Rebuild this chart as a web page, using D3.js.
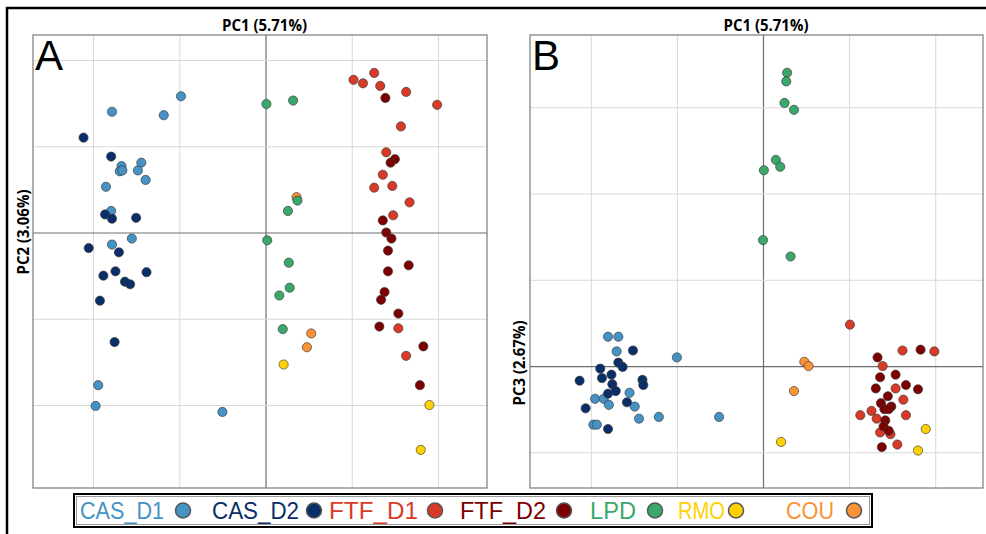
<!DOCTYPE html>
<html>
<head>
<meta charset="utf-8">
<script src="https://cdn.jsdelivr.net/npm/d3@7"></script>
<style>
  body { margin: 0; background: #fff; }
  .grid line { stroke: #d9d9d9; stroke-width: 1; }
  .grid .zero line { stroke: #6e6e6e; stroke-width: 1.2; }
  .grid path.domain { display: none; }
</style>
</head>
<body>
<div id="chart"></div>
<script>
// groups, legend labels and colours
const groups = ["CAS_D1", "CAS_D2", "FTF_D1", "FTF_D2", "LPD", "RMO", "COU"];
const groupColors = ["#4592c6", "#0a2f68", "#d83a27", "#7d0000", "#3aa86b", "#ffd100", "#fc9236"];
const drawOrder = ["CAS_D1", "CAS_D2", "FTF_D1", "FTF_D2", "COU", "LPD", "RMO"];

const axisTitlesA = ["PC1 (5.71%)", "PC2 (3.06%)"];
const axisTitlesB = ["PC1 (5.71%)", "PC3 (2.67%)"];
const gridTicksX = [-2, -1, 0, 1, 2];
const gridTicksYA = [-2, -1, 0, 1, 2];
const gridTicksYB = [-1, 0, 1, 2, 3];

// panel A : PC1 vs PC2  ([pc1, pc2])
const pc12_CAS_D1 = [[-0.98,1.58],[-1.78,1.40],[-1.18,1.36],[-1.67,0.77],[-1.44,0.81],[-1.48,0.72],
  [-1.69,0.71],[-1.66,0.72],[-1.39,0.61],[-1.85,0.53],[-1.79,0.25],[-1.55,-0.07],[-1.78,-0.14],
  [-1.94,-1.77],[-1.97,-2.01],[-0.50,-2.08]];
const pc12_CAS_D2 = [[-2.11,1.10],[-1.79,0.88],[-1.86,0.21],[-1.78,0.16],[-1.50,0.17],[-2.05,-0.18],
  [-1.70,-0.23],[-1.88,-0.50],[-1.74,-0.45],[-1.38,-0.46],[-1.63,-0.57],[-1.57,-0.60],[-1.92,-0.79],
  [-1.75,-1.27]];
const pc12_FTF_D1 = [[1.26,1.85],[1.02,1.77],[1.13,1.73],[1.33,1.70],[1.63,1.63],[1.99,1.48],[1.57,1.23],
  [1.40,0.93],[1.36,0.67],[1.26,0.52],[1.47,0.54],[1.67,0.35],[1.48,0.20],[1.54,-1.11],[1.63,-1.43]];
const pc12_FTF_D2 = [[1.39,1.56],[1.50,0.85],[1.45,0.81],[1.36,0.14],[1.40,0.00],[1.46,-0.07],[1.42,-0.21],
  [1.66,-0.38],[1.42,-0.45],[1.38,-0.69],[1.34,-0.78],[1.54,-0.94],[1.32,-1.09],[1.83,-1.32],[1.79,-1.77]];
const pc12_LPD = [[0.01,1.49],[0.32,1.53],[0.37,0.37],[0.26,0.25],[0.02,-0.09],[0.27,-0.35],[0.28,-0.64],
  [0.16,-0.73],[0.20,-1.12]];
const pc12_RMO = [[0.21,-1.53],[1.90,-2.00],[1.80,-2.52]];
const pc12_COU = [[0.36,0.41],[0.53,-1.17],[0.48,-1.33]];

// panel B : PC1 vs PC3  ([pc1, pc3])
const pc13_CAS_D1 = [[-1.80,0.34],[-1.68,0.34],[-1.70,0.17],[-1.00,0.10],[-1.55,-0.31],[-1.95,-0.38],
  [-1.85,-0.38],[-1.79,-0.45],[-1.49,-0.47],[-1.44,-0.61],[-1.21,-0.59],[-0.51,-0.59],[-1.97,-0.68],
  [-1.93,-0.68]];
const pc13_CAS_D2 = [[-1.51,0.18],[-1.68,0.04],[-1.63,-0.01],[-1.89,-0.03],[-1.76,-0.10],[-2.13,-0.17],
  [-1.87,-0.14],[-1.75,-0.21],[-1.40,-0.16],[-1.39,-0.22],[-1.71,-0.29],[-1.80,-0.32],[-1.58,-0.42],
  [-2.06,-0.49],[-1.80,-0.73]];
const pc13_FTF_D1 = [[1.01,0.48],[1.62,0.18],[1.99,0.17],[1.39,0.00],[1.54,-0.26],[1.63,-0.39],[1.13,-0.57],
  [1.26,-0.52],[1.32,-0.61],[1.66,-0.57],[1.36,-0.77],[1.48,-0.79],[1.56,-0.91]];
const pc13_FTF_D2 = [[1.83,0.19],[1.33,0.10],[1.54,-0.10],[1.36,-0.13],[1.66,-0.22],[1.80,-0.27],[1.31,-0.26],
  [1.45,-0.35],[1.37,-0.43],[1.49,-0.47],[1.41,-0.50],[1.46,-0.50],[1.42,-0.63],[1.40,-0.70],[1.46,-0.75],
  [1.38,-0.94]];
const pc13_LPD = [[0.28,3.40],[0.27,3.30],[0.25,3.05],[0.36,2.97],[0.15,2.39],[0.20,2.31],[0.01,2.27],
  [0.00,1.46],[0.32,1.27]];
const pc13_RMO = [[0.21,-0.88],[1.89,-0.73],[1.80,-0.98]];
const pc13_COU = [[0.48,0.05],[0.53,0.00],[0.36,-0.29]];

const pointsA = { CAS_D1: pc12_CAS_D1, CAS_D2: pc12_CAS_D2, FTF_D1: pc12_FTF_D1, FTF_D2: pc12_FTF_D2,
  LPD: pc12_LPD, RMO: pc12_RMO, COU: pc12_COU };
const pointsB = { CAS_D1: pc13_CAS_D1, CAS_D2: pc13_CAS_D2, FTF_D1: pc13_FTF_D1, FTF_D2: pc13_FTF_D2,
  LPD: pc13_LPD, RMO: pc13_RMO, COU: pc13_COU };

const width = 986, height = 534;
const color = d3.scaleOrdinal().domain(groups).range(groupColors);

const svg = d3.select("#chart").append("svg")
  .attr("width", width).attr("height", height)
  .style("font-family", "'Liberation Sans', Arial, sans-serif");

// outer figure frame
svg.append("path")
  .attr("d", "M7,534V8H986")
  .attr("fill", "none").attr("stroke", "#000").attr("stroke-width", 2.5);

createScatter({
  letter: "A", points: pointsA, titles: axisTitlesA,
  xDomain: [-2.696, 2.568], yDomain: [-2.962, 2.29], yTicks: gridTicksYA,
  left: 33, right: 487, top: 35, bottom: 488,
  titleX: 264.5, yTitleX: 28.5, yTitleY: 232
});
createScatter({
  letter: "B", points: pointsB, titles: axisTitlesB,
  xDomain: [-2.706, 2.555], yDomain: [-1.414, 3.838], yTicks: gridTicksYB,
  left: 530, right: 983, top: 35, bottom: 488,
  titleX: 766, yTitleX: 524.5, yTitleY: 363
});

function createScatter(o) {
  const x = d3.scaleLinear().domain(o.xDomain).range([o.left, o.right]);
  const y = d3.scaleLinear().domain(o.yDomain).range([o.bottom, o.top]);
  const g = svg.append("g");
  const innerW = o.right - o.left, innerH = o.bottom - o.top;

  //grid
  const gx = g.append("g").attr("class", "grid")
    .attr("transform", `translate(0,${o.bottom})`)
    .call(d3.axisBottom(x).tickValues(gridTicksX).tickSize(-innerH).tickFormat(""));
  const gy = g.append("g").attr("class", "grid")
    .attr("transform", `translate(${o.left},0)`)
    .call(d3.axisLeft(y).tickValues(o.yTicks).tickSize(-innerW).tickFormat(""));
  gx.selectAll(".tick").classed("zero", (d) => d === 0).filter((d) => d === 0).raise();
  gy.selectAll(".tick").classed("zero", (d) => d === 0).filter((d) => d === 0).raise();

  //border
  g.append("rect")
    .attr("x", o.left).attr("y", o.top).attr("width", innerW).attr("height", innerH)
    .attr("fill", "none").attr("stroke", "#7a7a7a").attr("stroke-width", 1.2);

  //titles
  g.append("text")
    .attr("x", o.titleX).attr("y", 30.5)
    .attr("text-anchor", "middle")
    .style("font-family", "'Open Sans', 'Noto Sans', sans-serif")
    .attr("font-weight", "bold").attr("font-size", 16.5)
    .attr("textLength", 85).attr("lengthAdjust", "spacingAndGlyphs")
    .text(o.titles[0]);
  g.append("text")
    .attr("transform", `translate(${o.yTitleX},${o.yTitleY}) rotate(-90)`)
    .attr("text-anchor", "middle")
    .style("font-family", "'Open Sans', 'Noto Sans', sans-serif")
    .attr("font-weight", "bold").attr("font-size", 16.5)
    .attr("textLength", 85).attr("lengthAdjust", "spacingAndGlyphs")
    .text(o.titles[1]);

  g.append("text")
    .attr("x", o.left + 2).attr("y", 70)
    .attr("font-size", 42)
    .text(o.letter);

  //mark
  const rows = drawOrder.flatMap((grp) => o.points[grp].map((p) => ({ group: grp, pc1: p[0], pc2: p[1] })));
  g.append("g").attr("class", "mark")
    .selectAll("circle")
    .data(rows)
    .join("circle")
    .attr("cx", (d) => x(d.pc1))
    .attr("cy", (d) => y(d.pc2))
    .attr("r", 4.6)
    .attr("fill", (d) => color(d.group))
    .attr("stroke", "#3a3a3a")
    .attr("stroke-opacity", 0.75)
    .attr("stroke-width", 0.9);
}

//legend
const legendX = [80, 212, 329, 460, 590, 678, 786];
const legendW = [84, 87, 89, 86, 46, 47, 48];
const legendDot = [183, 314, 435, 564, 655, 736, 854];
const legend = svg.append("g").attr("class", "legend");
legend.append("rect")
  .attr("x", 74).attr("y", 494).attr("width", 798).attr("height", 33)
  .attr("fill", "#fff").attr("stroke", "#000").attr("stroke-width", 2);
legend.append("rect")
  .attr("x", 76.5).attr("y", 496.5).attr("width", 793).attr("height", 28)
  .attr("fill", "none").attr("stroke", "#9a9a9a").attr("stroke-width", 1);
const item = legend.selectAll("g.item").data(groups).join("g").attr("class", "item");
item.append("text")
  .attr("x", (d, i) => legendX[i]).attr("y", 519)
  .attr("font-size", 24.5)
  .attr("textLength", (d, i) => legendW[i])
  .attr("lengthAdjust", "spacingAndGlyphs")
  .attr("fill", (d) => color(d))
  .text((d) => d);
item.append("circle")
  .attr("cx", (d, i) => legendDot[i]).attr("cy", 510.5).attr("r", 7.5)
  .attr("fill", (d) => color(d))
  .attr("stroke", "#555").attr("stroke-width", 1.5);
</script>
</body>
</html>
